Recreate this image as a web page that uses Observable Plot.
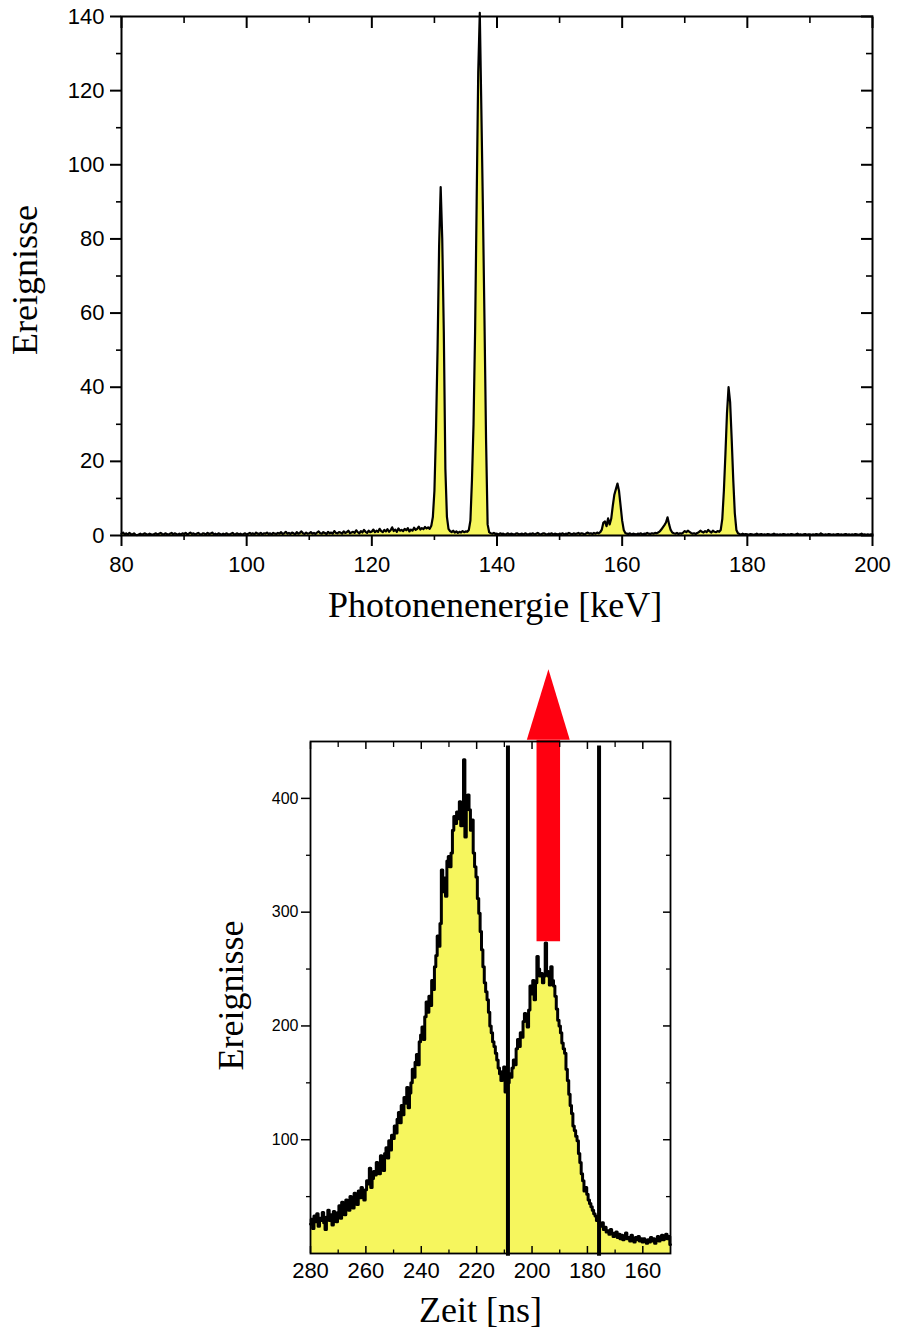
<!DOCTYPE html>
<html><head><meta charset="utf-8">
<script src="https://cdn.jsdelivr.net/npm/d3@7"></script>
<script src="https://cdn.jsdelivr.net/npm/@observablehq/plot@0.6"></script>
<style>
html,body{margin:0;padding:0;background:#fff;}
#chart svg{display:block;}
</style></head>
<body><div id="chart"></div>
<script>
// ---------- Top spectrum: photon energy (keV), bins of 0.25 keV starting at 80 ----------
const energyStart = 80;
const energyStep = 0.25;
const energyCounts = [
  0.5,0.8,0.3,0.6,0.2,0.7,0.4,0.3,0.6,0.2,0.1,0.3,0.5,0.2,0.4,0.6,0.3,0.2,0.5,0.3,
  0.2,0.4,0.6,0.3,0.5,0.7,0.4,0.3,0.6,0.4,0.2,0.5,0.7,0.3,0.6,0.4,0.2,0.5,0.3,0.6,
  0.4,0.7,0.3,0.5,0.8,0.4,0.6,0.3,0.5,0.7,0.4,0.2,0.6,0.5,0.3,0.7,0.4,0.5,0.8,0.3,
  0.5,0.3,0.6,0.4,0.2,0.5,0.3,0.6,0.4,0.3,0.5,0.7,0.3,0.4,0.6,0.3,0.5,0.2,0.4,0.6,
  0.3,0.5,0.7,0.4,0.6,0.3,0.8,0.5,0.4,0.7,0.3,0.6,0.5,0.8,0.4,0.6,0.3,0.7,0.5,0.4,
  0.7,0.5,0.9,0.4,0.6,1.0,0.5,0.7,0.4,0.8,0.6,0.3,0.9,0.5,0.7,1.1,0.6,0.4,0.8,0.5,
  0.6,0.9,0.5,0.7,0.4,0.8,1.1,0.6,0.5,0.9,0.7,0.4,1.0,0.6,0.8,0.5,1.2,0.7,0.6,0.9,
  0.8,0.5,1.1,0.7,0.9,1.3,0.6,0.8,1.0,0.7,1.4,0.9,0.6,1.2,0.8,1.5,1.0,0.7,1.3,0.9,
  1.1,1.6,0.9,1.3,1.0,1.8,1.2,0.9,1.5,1.1,1.7,1.0,1.4,2.2,1.2,1.6,1.0,1.9,1.3,1.5,
  1.2,1.8,1.4,2.0,1.1,1.6,1.3,2.1,1.5,1.8,2.4,1.6,2.0,1.7,2.3,1.9,2.2,1.8,2.6,5,
  12,28,50,78,94,80,55,18,5,1.8,1.2,0.9,1.3,0.8,1.1,0.7,1.0,0.8,1.2,0.9,
  1.1,1.0,1.5,4,15,30,55,90,125,141,115,88,58,26,3,0.9,0.6,0.5,0.7,0.4,
  0.5,0.3,0.6,0.4,0.5,0.3,0.4,0.6,0.3,0.5,0.4,0.2,0.5,0.6,0.3,0.4,0.5,0.3,0.6,0.4,
  0.3,0.5,0.4,0.6,0.3,0.5,0.7,0.4,0.3,0.5,0.6,0.4,0.3,0.5,0.4,0.6,0.3,0.5,0.4,0.3,
  0.5,0.4,0.6,0.3,0.5,0.4,0.7,0.5,0.3,0.6,0.4,0.5,0.7,0.4,0.6,0.5,0.3,0.6,0.8,0.5,
  0.6,0.4,0.7,0.5,0.8,0.6,0.9,1.6,3.5,3.8,2.5,4.6,3.0,4.5,8,11,12.5,14,12,8,
  4,1.5,0.7,0.5,0.4,0.6,0.3,0.5,0.4,0.3,0.5,0.4,0.6,0.3,0.5,0.4,0.7,0.5,0.4,0.6,
  0.5,0.7,0.6,0.8,1.1,1.6,2.2,2.8,3.5,4.9,3.0,1.5,0.8,0.6,0.5,0.7,0.4,0.6,0.5,0.8,
  1.2,0.9,1.3,1.0,0.7,0.5,0.6,0.4,0.7,0.9,1.3,1.0,0.8,1.2,0.9,1.5,1.1,0.8,1.3,1.0,
  0.9,1.2,1.0,1.5,4.5,12,22,33,40,36,26,15,6,1.5,0.6,0.4,0.3,0.5,0.3,0.4,
  0.3,0.2,0.4,0.3,0.2,0.3,0.5,0.2,0.3,0.4,0.2,0.3,0.2,0.4,0.3,0.2,0.3,0.5,0.2,0.3,
  0.2,0.3,0.2,0.4,0.3,0.2,0.3,0.2,0.4,0.3,0.2,0.3,0.5,0.2,0.3,0.2,0.3,0.4,0.2,0.3,
  0.3,0.2,0.3,0.2,0.4,0.3,0.2,0.6,0.3,0.2,0.3,0.2,0.4,0.3,0.2,0.3,0.2,0.3,0.4,0.2,
  0.3,0.2,0.3,0.4,0.2,0.3,0.2,0.3,0.2,0.4,0.3,0.2,0.3,0.5,0.2,0.3,0.2,0.3,0.2,0.3,
  0.3
];
const energyXTicks = [80, 100, 120, 140, 160, 180, 200];
const energyXMinor = [90, 110, 130, 150, 170, 190];
const energyYTicks = [0, 20, 40, 60, 80, 100, 120, 140];
const energyYMinor = [10, 30, 50, 70, 90, 110, 130];

// ---------- Bottom spectrum: time (ns), bins of 0.5 ns from 280 down to 150 ----------
const timeStart = 280;
const timeStep = -0.5;
const timeCounts = [
  26,30,22,33,28,35,24,31,29,36,27,21,32,38,29,34,25,37,31,28,
  36,42,31,45,39,34,47,41,38,50,44,40,53,47,43,55,49,58,52,47,
  56,64,61,75,58,66,72,69,80,74,70,86,78,73,88,93,84,99,91,104,
  101,112,106,118,124,115,130,122,137,132,146,128,141,150,162,155,168,175,166,186,
  192,199,188,208,221,212,226,218,240,232,252,262,279,270,290,337,318,330,314,345,
  349,340,352,372,384,378,388,382,397,376,384,434,366,395,403,390,372,381,352,340,
  331,312,299,283,267,252,238,230,223,212,200,194,186,182,176,170,163,158,152,160,
  164,142,158,150,158,155,163,170,166,180,188,182,194,190,204,211,206,199,214,235,
  228,240,223,238,261,250,244,246,238,244,273,248,244,236,252,240,235,226,215,205,
  200,194,185,180,176,162,152,140,130,123,112,108,103,99,88,80,70,64,55,58,
  52,47,44,41,38,35,33,29,31,26,24,27,21,23,19,20,17,21,18,15,
  16,19,14,17,13,16,12,15,18,13,14,11,16,13,10,14,12,15,11,13,
  10,13,11,9,12,10,14,11,13,9,12,15,11,13,16,12,14,17,13,15,
  8
];
const timeXTicks = [280, 260, 240, 220, 200, 180, 160];
const timeXMinor = [270, 250, 230, 210, 190, 170];
const timeYTicks = [100, 200, 300, 400];
const timeYMinor = [50, 150, 250, 350];
const gateTimes = [208.7, 175.8];
const gateY = [-2.5, 446];
const arrowShaftX = [198.2, 189.7];
const arrowShaftY = [274, 451];
const arrowHeadX = [201.7, 193.9, 186.2];
const arrowHeadY = [451, 513, 451];

// ---------- build tables ----------
const energyData = energyCounts.map((c, i) => ({x: energyStart + i * energyStep, y: c}));
const timeData = timeCounts.map((c, i) => ({x: timeStart + i * timeStep, y: c}));
const shaft = [{x1: arrowShaftX[0], x2: arrowShaftX[1], y1: arrowShaftY[0], y2: arrowShaftY[1]}];
const head = arrowHeadX.map((x, i) => ({x, y1: arrowHeadY[0], y2: arrowHeadY[i]}));

const YELLOW = "#f6f65e";
const RED = "#ff0010";
const SANS = "Liberation Sans, Arial, sans-serif";
const SERIF = "Liberation Serif, Times New Roman, serif";
const blank = () => "";

function tickOnly(fn, anchor, ticks, size, sw) {
  return fn({anchor, ticks, tickSize: size, tickFormat: blank, label: null, strokeWidth: sw, stroke: "#000"});
}
function textOnly(fn, anchor, ticks, pad, fs) {
  return fn({anchor, ticks, tickSize: 0, tickPadding: pad, label: null, fontSize: fs, fontFamily: SANS, fill: "#000"});
}

const topChart = Plot.plot({
  width: 898, height: 640,
  marginLeft: 121, marginRight: 26, marginTop: 16, marginBottom: 105,
  style: {background: "transparent", color: "#000", overflow: "visible"},
  x: {domain: [80, 200]},
  y: {domain: [0, 140]},
  marks: [
    Plot.areaY(energyData, {x: "x", y: "y", fill: YELLOW}),
    Plot.lineY(energyData, {x: "x", y: "y", stroke: "#000", strokeWidth: 2.2}),
    Plot.frame({stroke: "#000", strokeWidth: 2}),
    tickOnly(Plot.axisX, "bottom", energyXTicks, 11, 2),
    tickOnly(Plot.axisX, "bottom", energyXMinor, 5, 1.6),
    tickOnly(Plot.axisX, "top", energyXTicks, -11, 2),
    tickOnly(Plot.axisX, "top", energyXMinor, -6, 1.6),
    tickOnly(Plot.axisY, "left", energyYTicks, 11, 2),
    tickOnly(Plot.axisY, "left", energyYMinor, 5, 1.6),
    tickOnly(Plot.axisY, "right", energyYTicks, -12, 2),
    tickOnly(Plot.axisY, "right", energyYMinor, -7, 1.6),
    textOnly(Plot.axisX, "bottom", energyXTicks, 21, 22),
    textOnly(Plot.axisY, "left", energyYTicks, 17, 22),
    Plot.text(["Photonenenergie [keV]"], {frameAnchor: "bottom", textAnchor: "middle", dx: -2, dy: 70, lineAnchor: "middle", fontSize: 36, fontFamily: SERIF, fill: "#000"}),
    Plot.text(["Ereignisse"], {frameAnchor: "left", textAnchor: "middle", rotate: -90, dx: -96, dy: 4, lineAnchor: "middle", fontSize: 36, fontFamily: SERIF, fill: "#000"})
  ]
});

const bottomChart = Plot.plot({
  width: 898, height: 691,
  marginLeft: 310, marginRight: 228, marginTop: 101, marginBottom: 78,
  style: {background: "transparent", color: "#000", overflow: "visible"},
  x: {domain: [280, 150]},
  y: {domain: [0, 450]},
  marks: [
    Plot.areaY(timeData, {x: "x", y: "y", fill: YELLOW, curve: "step"}),
    Plot.lineY(timeData, {x: "x", y: "y", stroke: "#000", strokeWidth: 3, curve: "step"}),
    Plot.ruleX(gateTimes, {y1: gateY[0], y2: gateY[1], stroke: "#000", strokeWidth: 4}),
    Plot.rect(shaft, {x1: "x1", x2: "x2", y1: "y1", y2: "y2", fill: RED}),
    Plot.areaY(head, {x: "x", y1: "y1", y2: "y2", fill: RED}),
    Plot.frame({stroke: "#000", strokeWidth: 1.8}),
    tickOnly(Plot.axisX, "bottom", timeXTicks, -7, 1.5),
    tickOnly(Plot.axisX, "bottom", timeXMinor, -3.5, 1.3),
    tickOnly(Plot.axisX, "top", timeXTicks, -7, 1.5),
    tickOnly(Plot.axisX, "top", timeXMinor, -5, 1.3),
    tickOnly(Plot.axisY, "left", timeYTicks, 9, 1.5),
    tickOnly(Plot.axisY, "left", timeYMinor, 4, 1.3),
    tickOnly(Plot.axisY, "right", timeYTicks, -8, 1.5),
    tickOnly(Plot.axisY, "right", timeYMinor, -5, 1.3),
    textOnly(Plot.axisX, "bottom", timeXTicks, 9, 22),
    textOnly(Plot.axisY, "left", timeYTicks, 12, 16),
    Plot.text(["Zeit [ns]"], {frameAnchor: "bottom", textAnchor: "middle", dx: -10, dy: 57, lineAnchor: "middle", fontSize: 36, fontFamily: SERIF, fill: "#000"}),
    Plot.text(["Ereignisse"], {frameAnchor: "left", textAnchor: "middle", rotate: -90, dx: -79, dy: -2, lineAnchor: "middle", fontSize: 36, fontFamily: SERIF, fill: "#000"})
  ]
});

const root = document.getElementById("chart");
root.appendChild(topChart);
root.appendChild(bottomChart);
</script>
</body></html>
